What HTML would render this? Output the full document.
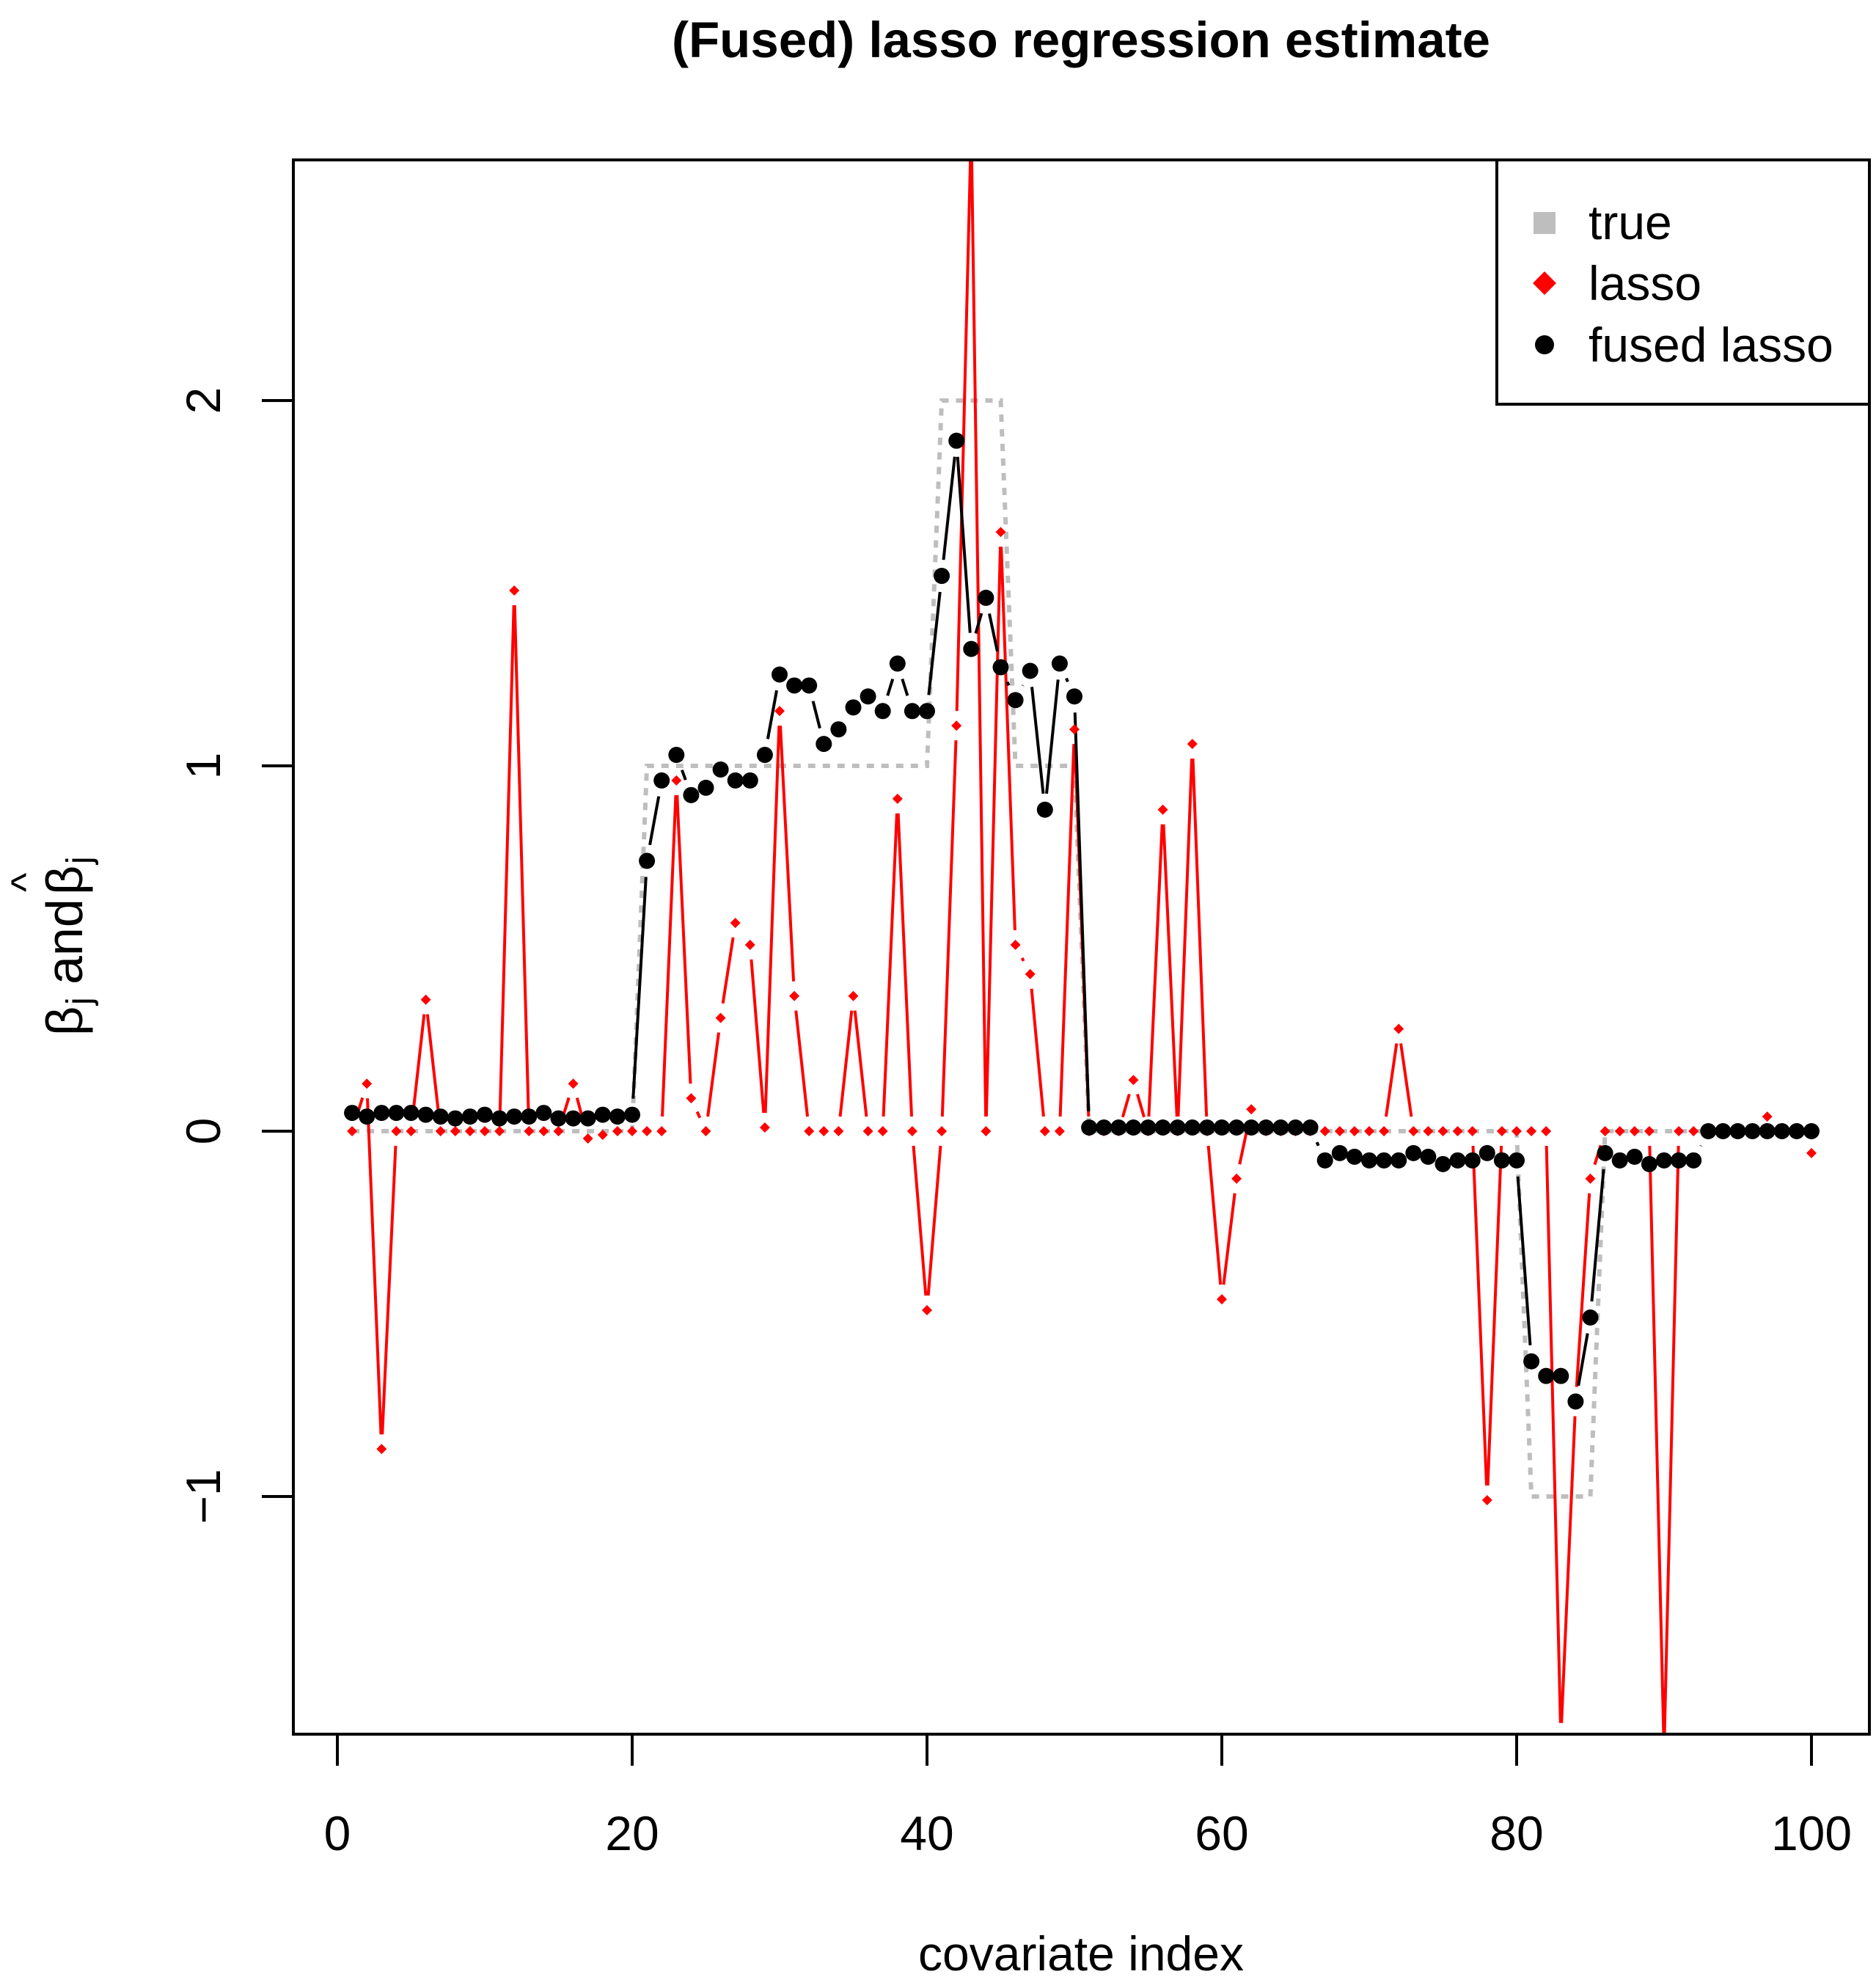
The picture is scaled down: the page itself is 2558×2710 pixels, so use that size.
<!DOCTYPE html>
<html><head><meta charset="utf-8"><style>
html,body{margin:0;padding:0;background:#fff;}
svg{display:block;}
text{font-family:"Liberation Sans",sans-serif;}
</style></head><body>
<svg id="chart" width="2558" height="2710" viewBox="0 0 2558 2710" xmlns="http://www.w3.org/2000/svg">
<defs><clipPath id="plotclip"><rect x="400" y="218" width="2149" height="2146"/></clipPath></defs>
<rect x="0" y="0" width="2558" height="2710" fill="#fff"/>
<text x="1474" y="78" font-size="69" font-weight="bold" text-anchor="middle">(Fused) lasso regression estimate</text>
<g id="series" clip-path="url(#plotclip)"></g>
<rect x="400" y="218" width="2149" height="2146" fill="none" stroke="#000" stroke-width="4"/>
<g id="axes"></g>
<text x="1474" y="2686" font-size="66" text-anchor="middle">covariate index</text>
<g transform="translate(112,1290) rotate(-90)">
<text x="-122" y="0" font-size="70">β</text>
<text x="-80" y="12" font-size="48">j</text>
<text x="-52" y="0" font-size="70">and</text>
<text x="70" y="0" font-size="70">β</text>
<text x="112" y="12" font-size="48">j</text>
<text x="74" y="-58" font-size="56">^</text>
</g>
<g>
<rect x="2041" y="218" width="508" height="333" fill="#fff" stroke="#000" stroke-width="4"/>
<rect x="2091" y="289" width="30" height="30" fill="#bebebe"/>
<text x="2166" y="326" font-size="66">true</text>
<polygon points="2106,370 2122,386 2106,402 2090,386" fill="#ff0000"/>
<text x="2166" y="409" font-size="66">lasso</text>
<circle cx="2106" cy="470" r="13" fill="#000"/>
<text x="2166" y="493" font-size="66">fused lasso</text>
</g>
</svg>
<script>
const trueBeta = [0,0,0,0,0,0,0,0,0,0,0,0,0,0,0,0,0,0,0,0,
 1,1,1,1,1,1,1,1,1,1,1,1,1,1,1,1,1,1,1,1,
 2,2,2,2,2,1,1,1,1,1,
 0,0,0,0,0,0,0,0,0,0,0,0,0,0,0,0,0,0,0,0,0,0,0,0,0,0,0,0,0,0,
 -1,-1,-1,-1,-1,
 0,0,0,0,0,0,0,0,0,0,0,0,0,0,0];
const lassoBeta = [0,0.13,-0.87,0,0,0.36,0,0,0,0,0,1.48,0,0,0,0.13,-0.02,-0.01,0,0,
 0,0,0.96,0.09,0,0.31,0.57,0.51,0.01,1.15,0.37,0,0,0,0.37,0,0,0.91,0,-0.49,
 0,1.11,2.75,0,1.64,0.51,0.43,0,0,1.10,
 0,0,0,0.14,0,0.88,0,1.06,0,-0.46,-0.13,0.06,0,0,0,0,0,0,0,0,0,0.28,0,0,0,0,0,-1.01,0,0,
 0,0,-1.66,-0.74,-0.13,
 0,0,0,0,-1.70,0,0,0,0,0,0,0.04,0,0,-0.06];
const fusedBeta = [0.05,0.04,0.05,0.05,0.05,0.045,0.04,0.035,0.04,0.045,0.035,0.04,0.04,0.05,0.035,0.035,0.035,0.045,0.04,0.045,
 0.74,0.96,1.03,0.92,0.94,0.99,0.96,0.96,1.03,1.25,1.22,1.22,1.06,1.10,1.16,1.19,1.15,1.28,1.15,1.15,
 1.52,1.89,1.32,1.46,1.27,1.18,1.26,0.88,1.28,1.19,
 0.01,0.01,0.01,0.01,0.01,0.01,0.01,0.01,0.01,0.01,0.01,0.01,0.01,0.01,0.01,0.01,
 -0.08,-0.06,-0.07,-0.08,-0.08,-0.08,-0.06,-0.07,-0.09,-0.08,-0.08,-0.06,-0.08,-0.08,
 -0.63,-0.67,-0.67,-0.74,-0.51,
 -0.06,-0.08,-0.07,-0.09,-0.08,-0.08,-0.08,
 0,0,0,0,0,0,0,0];
const xTicks = [0,20,40,60,80,100];
const yTicks = [-1,0,1,2];

const NS = 'http://www.w3.org/2000/svg';
function xs(v){ return 460 + v*20.1; }
function ys(v){ return 1542 - v*498; }
function mk(tag, attrs, parent){
  const e = document.createElementNS(NS, tag);
  for (const k in attrs) e.setAttribute(k, attrs[k]);
  parent.appendChild(e);
  return e;
}
const series = document.getElementById('series');
const axes = document.getElementById('axes');

// true line (dotted)
let pts = trueBeta.map((v,i)=>xs(i+1)+','+ys(v)).join(' ');
const tl = mk('polyline', {points:pts, fill:'none', stroke:'#bebebe', 'stroke-width':6, 'stroke-dasharray':'10 10'}, series);



// type "b" lines with gaps
function gapLines(arr, color, width, gap, name){
  const g = mk('g', {}, series);
  
  
  for (let i=0;i<arr.length-1;i++){
    const x1=xs(i+1), y1=ys(arr[i]), x2=xs(i+2), y2=ys(arr[i+1]);
    const dx=x2-x1, dy=y2-y1, L=Math.hypot(dx,dy);
    if (L <= 2*gap) continue;
    const ux=dx/L, uy=dy/L;
    const s = mk('line', {x1:x1+ux*gap, y1:y1+uy*gap, x2:x2-ux*gap, y2:y2-uy*gap, stroke:color, 'stroke-width':width}, g);
    
    
  }
}
gapLines(lassoBeta, '#ff0000', 4, 20, 'lasso-line');
gapLines(fusedBeta, '#000000', 4, 22, 'fused-line');

lassoBeta.forEach((v,i)=>{
  const x=xs(i+1), y=ys(v);
  const d = mk('polygon', {points:`${x},${y-7} ${x+7},${y} ${x},${y+7} ${x-7},${y}`, fill:'#ff0000'}, series);
  
  
});
fusedBeta.forEach((v,i)=>{
  const c = mk('circle', {cx:xs(i+1), cy:ys(v), r:11, fill:'#000'}, series);
  
  
});

// axes
xTicks.forEach(t=>{
  const l = mk('line', {x1:xs(t), y1:2364, x2:xs(t), y2:2407, stroke:'#000', 'stroke-width':4}, axes);
  
  
  const tx = mk('text', {x:xs(t), y:2522, 'font-size':66, 'text-anchor':'middle'}, axes);
  
  
  tx.textContent = String(t);
});
yTicks.forEach(t=>{
  const l = mk('line', {x1:357, y1:ys(t), x2:400, y2:ys(t), stroke:'#000', 'stroke-width':4}, axes);
  
  
  const tx = mk('text', {x:0, y:0, 'font-size':66, 'text-anchor':'middle', transform:`translate(300,${ys(t)}) rotate(-90)`}, axes);
  
  
  tx.textContent = t<0 ? '\u2212'+Math.abs(t) : String(t);
});
</script>
</body></html>
